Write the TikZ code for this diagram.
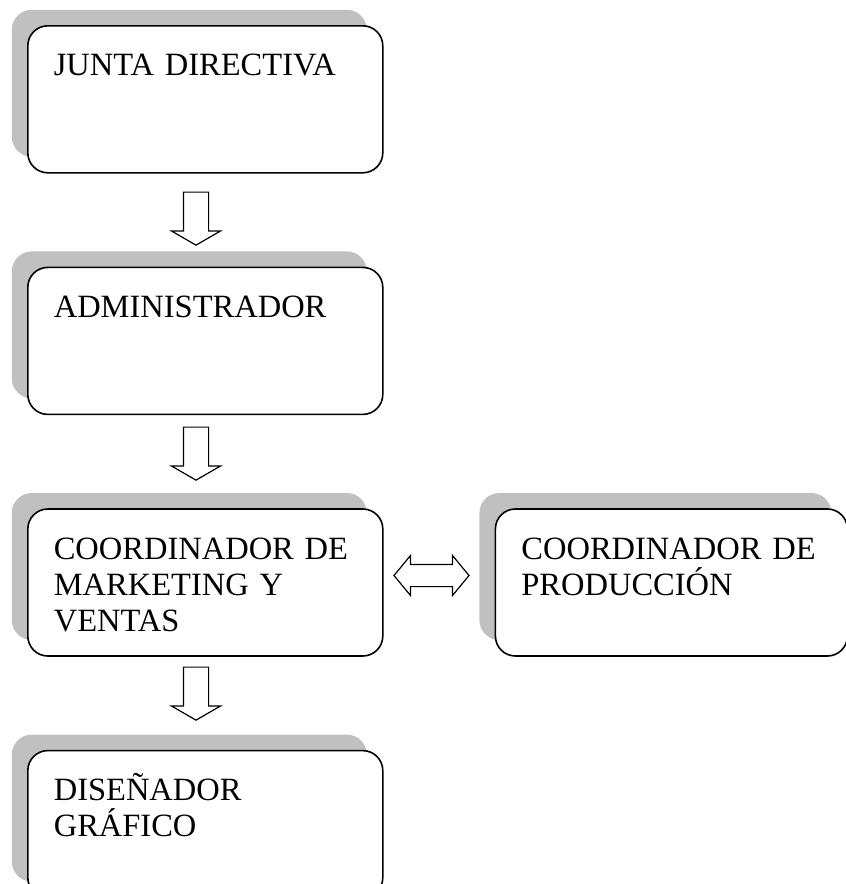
\documentclass[tikz,border=0pt]{standalone}
\usepackage{fontspec}
\setmainfont{Liberation Serif}
\usetikzlibrary{positioning,shadows,shapes.arrows}

\definecolor{shadowgray}{RGB}{192,192,192}

\tikzset{
    orgbox/.style = {draw, line width=1.6pt, rounded corners=20pt, fill=white,
        anchor=north west, align=left, text width=303pt, minimum width=355pt,
        inner xsep=26pt, inner ysep=26pt, text height=24pt, text depth=71pt,
        font=\fontsize{32.5}{36}\selectfont,
        general shadow={fill=shadowgray, shadow xshift=-16pt, shadow yshift=16pt}},
    downarrow/.style = {single arrow, draw, line width=1.2pt, inner sep=12pt,
        minimum height=53pt, minimum width=48pt, single arrow head extend=12pt,
        single arrow tip angle=120, shape border rotate=270},
    bothways/.style = {double arrow, draw, line width=1.2pt, inner sep=10.5pt,
        minimum height=75pt, minimum width=39pt, double arrow head extend=9pt,
        double arrow tip angle=101}
}

\begin{document}
\begin{tikzpicture}[x=1pt, y=-1pt]
    \clip (0,0) rectangle (846,884);
    \node[orgbox] (junta) at (27,25) {JUNTA DIRECTIVA};
    \node[orgbox, below=93pt of junta] (admin) {ADMINISTRADOR};
    \node[orgbox, below=93pt of admin] (mkt) {COORDINADOR DE\\MARKETING Y\\VENTAS};
    \node[orgbox, below=93pt of mkt] (disen) {DISEÑADOR\\GRÁFICO};
    \node[orgbox, text width=300pt, minimum width=352pt, right=111pt of mkt] (prod)
        {COORDINADOR DE\\PRODUCCIÓN};

    \node[downarrow] (a1) at (196,215) {};
    \node[downarrow] (a2) at (196,450) {};
    \node[downarrow] (a3) at (196,690) {};
    \node[bothways] (a4) at (431.5,575.5) {};
\end{tikzpicture}
\end{document}
